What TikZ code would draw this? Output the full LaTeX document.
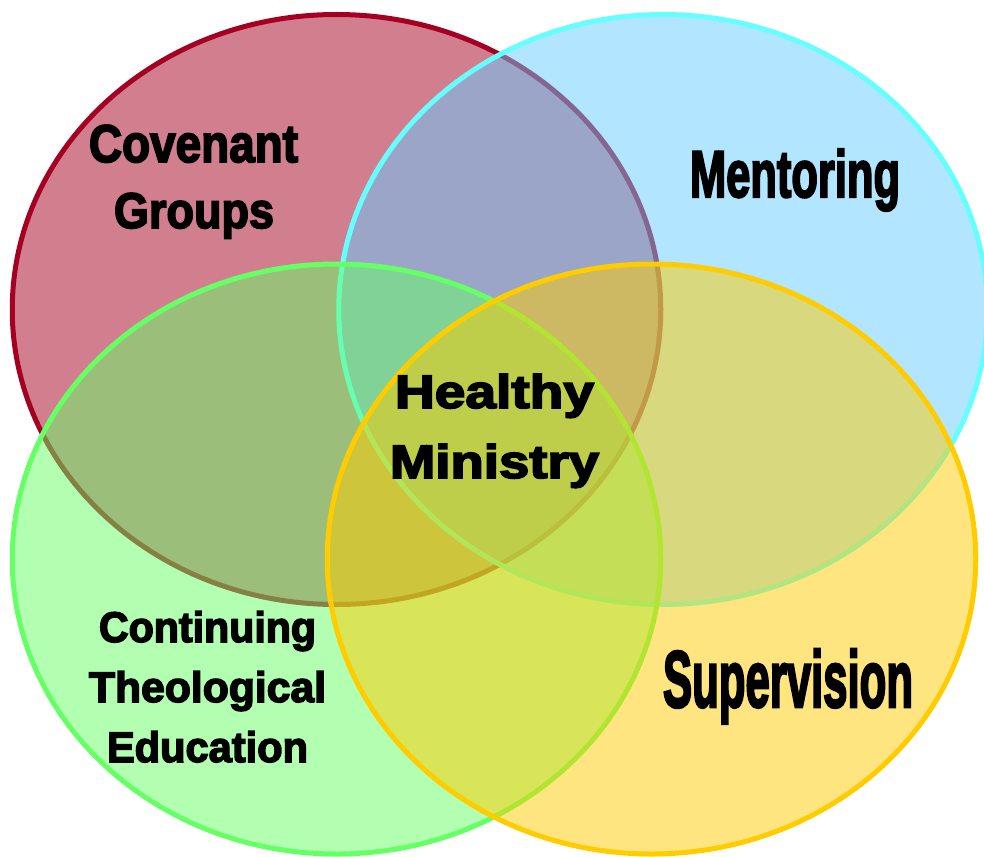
\documentclass[tikz,border=0pt]{standalone}
\usepackage{graphicx}
\usepackage{fontspec}
\usetikzlibrary{shapes.geometric}
\newfontfamily\lblfont{Liberation Sans}[UprightFeatures={FakeBold=3.5}, BoldFeatures={FakeBold=3.5}]
\definecolor{vred}{HTML}{A50021}
\definecolor{vcyan}{HTML}{66FFFF}
\definecolor{vcyanfill}{HTML}{66CCFF}
\definecolor{vgreen}{HTML}{66FF66}
\definecolor{vyellow}{HTML}{FFCC00}
\newcommand\vlbl[3]{\resizebox{#1pt}{#2pt}{\lblfont\bfseries\vphantom{H}#3}}
\begin{document}
\begin{tikzpicture}[x=1pt,y=-1pt]
\tikzset{
  venn/.style={ellipse, inner sep=0pt, minimum width=648.5pt, minimum height=590pt, line width=5pt, fill opacity=0.5},
  lbl/.style={inner sep=0pt, anchor=base}
}
\useasboundingbox[fill=white] (0,0) rectangle (984,856);
\node[venn, draw=vred, fill=vred] (cov) at (336.5,309.5) {};
\node[venn, draw=vcyan, fill=vcyanfill] (men) at (663,309.5) {};
\node[venn, draw=vgreen, fill=vgreen] (cte) at (336.5,559) {};
\node[venn, draw=vyellow, fill=vyellow] (sup) at (651.5,559) {};
\node[lbl] (covA) at (193.5,162) {\vlbl{209}{37}{Covenant}};
\node[lbl] (covB) at (194,228) {\vlbl{160}{35}{Groups}};
\node[lbl] (menA) at (795,197) {\vlbl{210}{48}{Mentoring}};
\node[lbl] (hmA) at (494.5,408) {\vlbl{199}{34}{Healthy}};
\node[lbl] (hmB) at (494.5,478) {\vlbl{209}{34}{Ministry}};
\node[lbl] (cteA) at (207.5,642) {\vlbl{217}{31}{Continuing}};
\node[lbl] (cteB) at (207.5,702) {\vlbl{237}{31}{Theological}};
\node[lbl] (cteC) at (207.5,762) {\vlbl{201}{31}{Education}};
\node[lbl] (supA) at (788,707) {\vlbl{250}{58}{Supervision}};
\end{tikzpicture}
\end{document}
